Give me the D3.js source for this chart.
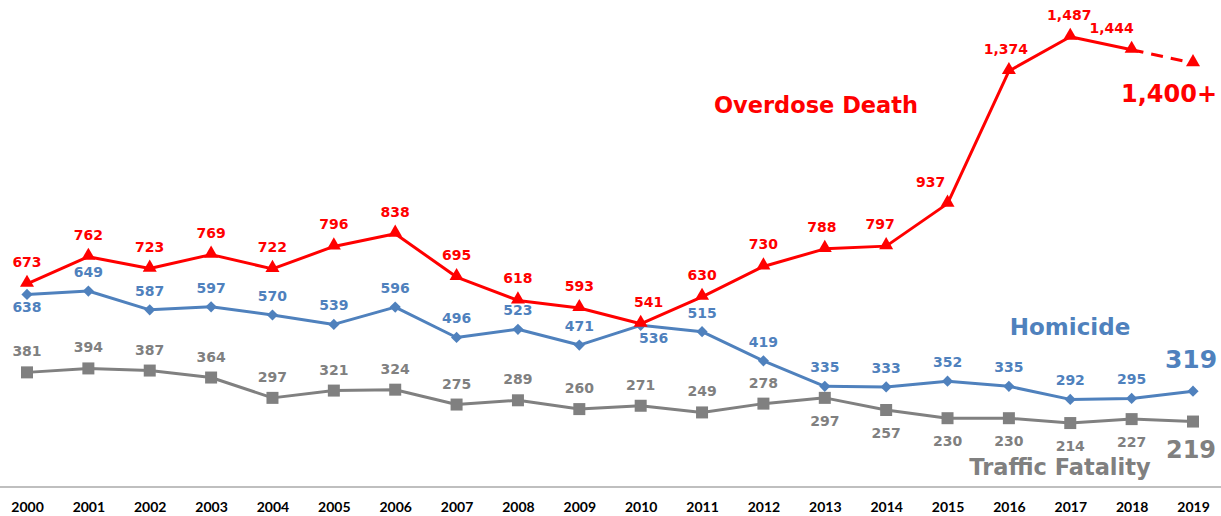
<!DOCTYPE html>
<html><head><meta charset="utf-8">
<script src="https://cdn.jsdelivr.net/npm/d3@7"></script>
<style>body{margin:0;background:#fff}svg{display:block}</style>
</head><body><svg id="c" width="1221" height="516"></svg>
<script>
const years = [2000,2001,2002,2003,2004,2005,2006,2007,2008,2009,2010,2011,2012,2013,2014,2015,2016,2017,2018,2019];
const overdose = [673,762,723,769,722,796,838,695,618,593,541,630,730,788,797,937,1374,1487,1444,1400];
const homicide = [638,649,587,597,570,539,596,496,523,471,536,515,419,335,333,352,335,292,295,319];
const traffic = [381,394,387,364,297,321,324,275,289,260,271,249,278,297,257,230,230,214,227,219];
// label side: 1 = above, -1 = below
const homicideSide = [-1,1,1,1,1,1,1,1,1,1,-1,1,1,1,1,1,1,1,1,0];
const trafficSide = [1,1,1,1,1,1,1,1,1,1,1,1,1,-1,-1,-1,-1,-1,-1,0];

const svg = d3.select("#c");
const x = d3.scalePoint().domain(years).range([27,1193]);
const y = d3.scaleLinear().domain([0,1608]).range([488,0]);
const RED="#ff0000", BLUE="#4f81bd", GRAY="#808080";
const fmt = d3.format(",");

svg.append("line").attr("x1",0).attr("x2",1221).attr("y1",487).attr("y2",487)
  .attr("stroke","#bfbfbf").attr("stroke-width",2);

const ax = svg.append("g").attr("transform","translate(0,500)")
  .call(d3.axisBottom(x).tickSize(0).tickPadding(0));
ax.select(".domain").remove();
ax.selectAll("text").attr("font-family","Lato, 'Liberation Sans', sans-serif")
  .attr("font-weight","bold").attr("font-size",14).attr("fill","#000").attr("dy","0.85em");

const line = d3.line().x((d,i)=>x(years[i])).y(d=>y(d));

svg.append("path").datum(traffic).attr("d",line)
  .attr("fill","none").attr("stroke",GRAY).attr("stroke-width",3).attr("stroke-linejoin","round");
svg.selectAll(".sq").data(traffic).join("rect")
  .attr("x",(d,i)=>x(years[i])-6).attr("y",d=>y(d)-6).attr("width",12).attr("height",12).attr("fill",GRAY);

svg.append("path").datum(homicide).attr("d",line)
  .attr("fill","none").attr("stroke",BLUE).attr("stroke-width",3).attr("stroke-linejoin","round");
svg.selectAll(".dm").data(homicide).join("path")
  .attr("d",d3.symbol(d3.symbolDiamond2,80))
  .attr("transform",(d,i)=>`translate(${x(years[i])},${y(d)})`).attr("fill",BLUE);

svg.append("path").datum(overdose.slice(0,19)).attr("d",line)
  .attr("fill","none").attr("stroke",RED).attr("stroke-width",3).attr("stroke-linejoin","round");
svg.append("path").attr("d",`M${x(2018)},${y(1444)}L${x(2019)},${y(1400)}`)
  .attr("fill","none").attr("stroke",RED).attr("stroke-width",3).attr("stroke-dasharray","12,8");
svg.selectAll(".tr").data(overdose).join("path")
  .attr("d",d3.symbol(d3.symbolTriangle,85))
  .attr("transform",(d,i)=>`translate(${x(years[i])},${y(d)-1})`).attr("fill",RED);

const lblFont = "'DejaVu Sans', Verdana, sans-serif";
function lbl(xx,yy,t,color,size){
  svg.append("text").attr("x",xx).attr("y",yy).attr("text-anchor","middle")
    .attr("dominant-baseline","middle").attr("font-family",lblFont).attr("font-weight","bold")
    .attr("font-size",size).attr("fill",color).text(t);
}
const odDx = [0,0,0,0,0,0,0,0,0,0,8,0,0,-3,-6,-17,-3,-1,-20];
overdose.slice(0,19).forEach((v,i)=>lbl(x(years[i])+odDx[i], y(v)-21, fmt(v), RED, 14));
homicide.forEach((v,i)=>{
  if(!homicideSide[i]) return;
  const dx = i===10?13:0;
  lbl(x(years[i])+dx, y(v) + (homicideSide[i]>0?-18:14), fmt(v), BLUE, 14);
});
traffic.forEach((v,i)=>{
  if(!trafficSide[i]) return;
  lbl(x(years[i]), y(v) + (trafficSide[i]>0?-20:24), fmt(v), GRAY, 14);
});

lbl(1169, 95, "1,400+", RED, 24);
lbl(1191, 361, fmt(homicide[19]), BLUE, 25);
lbl(1191, 451, fmt(traffic[19]), GRAY, 24);
lbl(816, 106, "Overdose Death", RED, 22.5);
lbl(1070, 328, "Homicide", BLUE, 23);
lbl(1060, 468, "Traffic Fatality", GRAY, 22.5);
</script></body></html>
